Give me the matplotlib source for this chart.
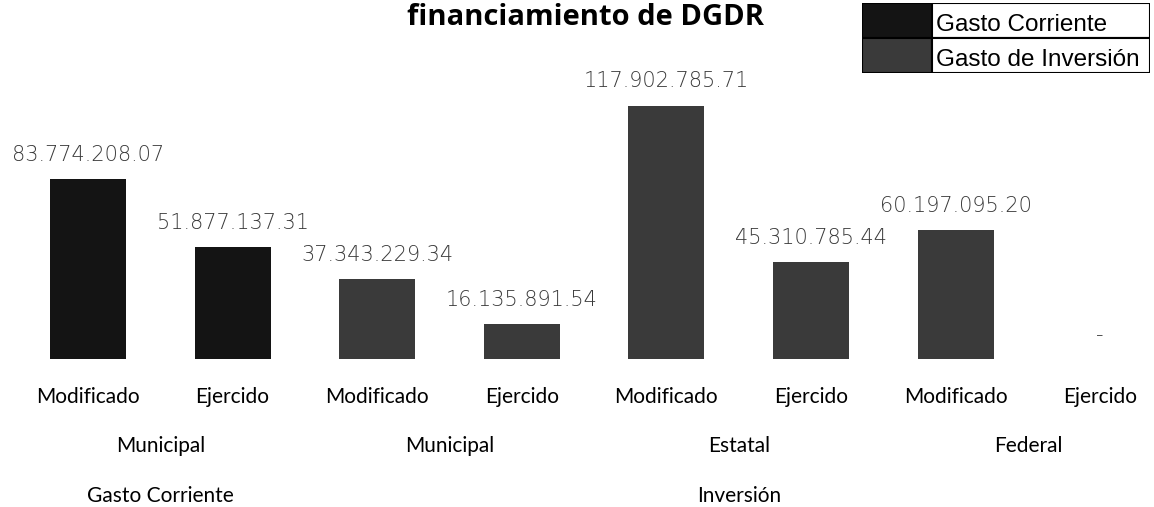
import matplotlib
matplotlib.use("Agg")
import matplotlib.pyplot as plt
from matplotlib.patches import Rectangle
import numpy as np

# datos
etapas = ["Modificado", "Ejercido", "Modificado", "Ejercido",
          "Modificado", "Ejercido", "Modificado", "Ejercido"]
montos = [83774208.07, 51877137.31, 37343229.34, 16135891.54,
          117902785.71, 45310785.44, 60197095.20, 0.0]
serie = ["Gasto Corriente", "Gasto Corriente",
         "Gasto de Inversión", "Gasto de Inversión", "Gasto de Inversión",
         "Gasto de Inversión", "Gasto de Inversión", "Gasto de Inversión"]
origen = ["Municipal", "Municipal", "Estatal", "Federal"]
origen_n = [2, 2, 2, 2]
tipo = ["Gasto Corriente", "Inversión"]
tipo_n = [2, 6]
series = ["Gasto Corriente", "Gasto de Inversión"]

colores = {"Gasto Corriente": "#141414", "Gasto de Inversión": "#3a3a3a"}
W, H = 1154, 507


def fmt(v):
    if v == 0:
        return "-"
    return f"{v:,.2f}".replace(",", ".")


fig = plt.figure(figsize=(W / 100, H / 100), dpi=100)

# eje principal: base en y=359 px, 2.15 px por millón
base = 359
escala = 2.15
ymax = 150
alto = ymax * escala
ax = fig.add_axes([0, (H - base) / H, 1, alto / H])
paso = 144.6
ax.set_xlim(-88 / paso, (W - 88) / paso)
ax.set_ylim(0, ymax)
ax.axis("off")

x = np.arange(len(montos))
y = np.array(montos) / 1e6
ax.bar(x, y, width=0.525, color=[colores[s] for s in serie], linewidth=0)

for xi, yi, v in zip(x, y, montos):
    ax.annotate(fmt(v), (xi, yi), xytext=(0, 13), textcoords="offset points",
                ha="center", va="baseline", fontsize=15, color="#3a3a3a",
                family="DejaVu Sans", fontweight="light")

tr = ax.get_xaxis_transform()
lab = dict(ha="center", va="baseline", fontsize=15, family=["Lato", "DejaVu Sans"],
           color="black", clip_on=False)
for xi, t in zip(x, etapas):
    ax.text(xi, -(403 - base) / alto, t, transform=tr, **lab)

i0 = 0
for t, n in zip(origen, origen_n):
    ax.text(x[i0:i0 + n].mean(), -(452 - base) / alto, t, transform=tr, **lab)
    i0 += n
i0 = 0
for t, n in zip(tipo, tipo_n):
    ax.text(x[i0:i0 + n].mean(), -(502 - base) / alto, t, transform=tr, **lab)
    i0 += n

# título (cortado arriba en el original)
fig.text(585 / W, 1 - 25 / H, "financiamiento de DGDR", ha="center", va="baseline",
         fontsize=21, fontweight="bold", family=["Open Sans", "DejaVu Sans"])

# leyenda tipo tabla
lx0, lx1, ly0, ly1 = 862, 1150, 3, 73
lg = fig.add_axes([lx0 / W, 1 - ly1 / H, (lx1 - lx0) / W, (ly1 - ly0) / H])
lg.set_xlim(lx0, lx1)
lg.set_ylim(ly1, ly0)
lg.axis("off")
fila = (ly1 - ly0) / len(series)
for k, s in enumerate(series):
    yt = ly0 + k * fila
    lg.add_patch(Rectangle((lx0, yt), 932 - lx0, fila, facecolor=colores[s],
                           edgecolor="black", linewidth=1.5))
    lg.add_patch(Rectangle((932, yt), lx1 - 932, fila, facecolor="white",
                           edgecolor="black", linewidth=1.5))
    lg.text(936, yt + fila - 7, s, ha="left", va="baseline", fontsize=17.5,
            family="Liberation Sans", color="black")

fig.savefig("out.png", dpi=100)
